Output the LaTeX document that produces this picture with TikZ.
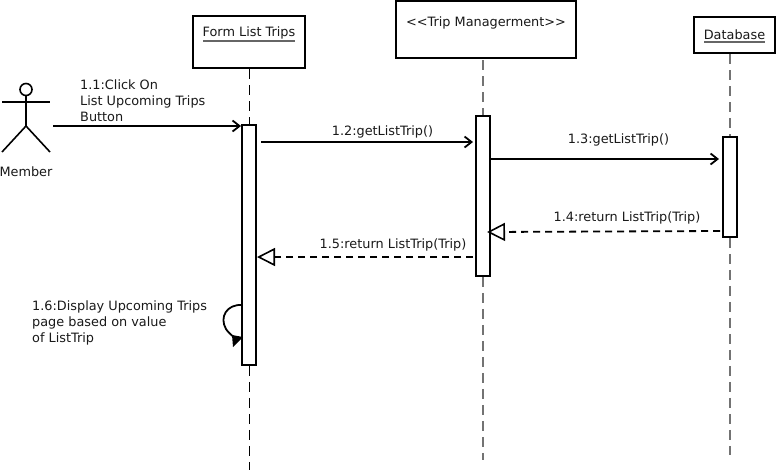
\documentclass[tikz,border=0pt]{standalone}
\usepackage{fontspec}
\setmainfont{DejaVu Sans}
\usetikzlibrary{arrows.meta,calc}
\tikzset{
  objbox/.style={draw=black,line width=1.8pt,fill=white,inner sep=0pt,minimum width=#1},
  actbox/.style={draw=black,line width=1.8pt,fill=white,inner sep=0pt,minimum width=14pt},
  lab/.style={inner sep=0pt,font=\fontsize{12.85}{16}\selectfont,text=black!90},
  lifeb/.style={draw=black,line width=0.9pt,dash pattern=on 10pt off 6pt},
  lifeg/.style={draw=black!55,line width=1.4pt,dash pattern=on 10pt off 6pt},
  call/.style={draw=black,line width=1.8pt,-{Straight Barb[length=7pt,width=11pt,line width=1.8pt]}},
  ret/.style={draw=black,line width=1.8pt,dash pattern=on 7pt off 5pt,-{Triangle[open,fill=white,length=18pt,width=18pt,line width=1.6pt]}},
  stick/.style={draw=black,line width=1.6pt},
  uline/.style={draw=black!60,line width=1.2pt}
}
\begin{document}
\begin{tikzpicture}[x=1pt,y=-1pt]
\useasboundingbox (0,0) rectangle (776,475);
% lifeline end points
\coordinate (fend) at (249,470);
\coordinate (tend) at (483,460);
\coordinate (dend) at (730,455);
% object boxes
\node[objbox=112pt,minimum height=52pt] (form) at (249,42) {};
\node[objbox=180pt,minimum height=57pt] (trip) at (486,29.5) {};
\node[objbox=81pt,minimum height=36pt] (db) at (734.5,35) {};
% activations
\node[actbox,minimum height=240pt] (af) at (249,245) {};
\node[actbox,minimum height=160pt] (at) at (483,196) {};
\node[actbox,minimum height=100pt] (ad) at (730,187) {};
% lifelines
\coordinate (ftop) at (249,69);
\coordinate (ttop) at (483,60);
\coordinate (dtop) at (730,54);
\draw[lifeb] (ftop) -- (af.north);
\draw[lifeb] (af.south) -- (fend);
\draw[lifeg] (ttop) -- (at.north);
\draw[lifeg] (at.south) -- (tend);
\draw[lifeg] (dtop) -- (ad.north);
\draw[lifeg] (ad.south) -- (dend);
% object labels
\node[lab] (formt) at (249,33) {Form List Trips};
\node[lab] (tript) at (486,23) {<{}<Trip Managerment>{}>};
\node[lab] (dbt) at (734.5,35) {Database};
\draw[uline] (203,41) -- (295,41);
\draw[uline] (704,42) -- (765,42);
% actor
\coordinate (head) at (26,89.5);
\coordinate (hip) at (26,126);
\node[draw=black,line width=1.6pt,circle,minimum size=12pt,inner sep=0pt] (actorhead) at (head) {};
\draw[stick] (actorhead.south) -- (hip);
\draw[stick] (2,102) -- (50,102);
\draw[stick] (2,152) -- (hip) -- (50,152);
\node[lab] (member) at (26,172) {Member};
% message end points
\coordinate (m1a) at (53,126);  \coordinate (m1b) at (241,126);
\coordinate (m2a) at (261,142); \coordinate (m2b) at (473,142);
\coordinate (m3a) at (490,159); \coordinate (m3b) at (719,159);
\coordinate (m4a) at (720,231); \coordinate (m4b) at (487,232);
\coordinate (m5a) at (473,257); \coordinate (m5b) at (257,257);
\coordinate (m6a) at (242,305); \coordinate (m6b) at (243,337);
\draw[call] (m1a) -- (m1b);
\draw[call] (m2a) -- (m2b);
\draw[call] (m3a) -- (m3b);
\draw[ret] (m4a) -- (m4b);
\draw[ret] (m5a) -- (m5b);
\draw[draw=black,line width=1.8pt] (m6a) .. controls (227,304) and (219,317) .. (226,329) .. controls (228,332) and (231,335) .. (234,337);
\fill[black] (m6b) -- (232,335) -- (233,347) -- cycle;
% message labels
\node[lab,anchor=west,align=left] (l1) at (80,101) {1.1:Click On\\List Upcoming Trips\\Button};
\node[lab] (l2) at (382.5,132) {1.2:getListTrip()};
\node[lab] (l3) at (618.5,140) {1.3:getListTrip()};
\node[lab] (l4) at (627,218) {1.4:return ListTrip(Trip)};
\node[lab] (l5) at (393,245) {1.5:return ListTrip(Trip)};
\node[lab,anchor=west,align=left] (l6) at (32,323) {1.6:Display Upcoming Trips\\page based on value\\of ListTrip};
\end{tikzpicture}
\end{document}
